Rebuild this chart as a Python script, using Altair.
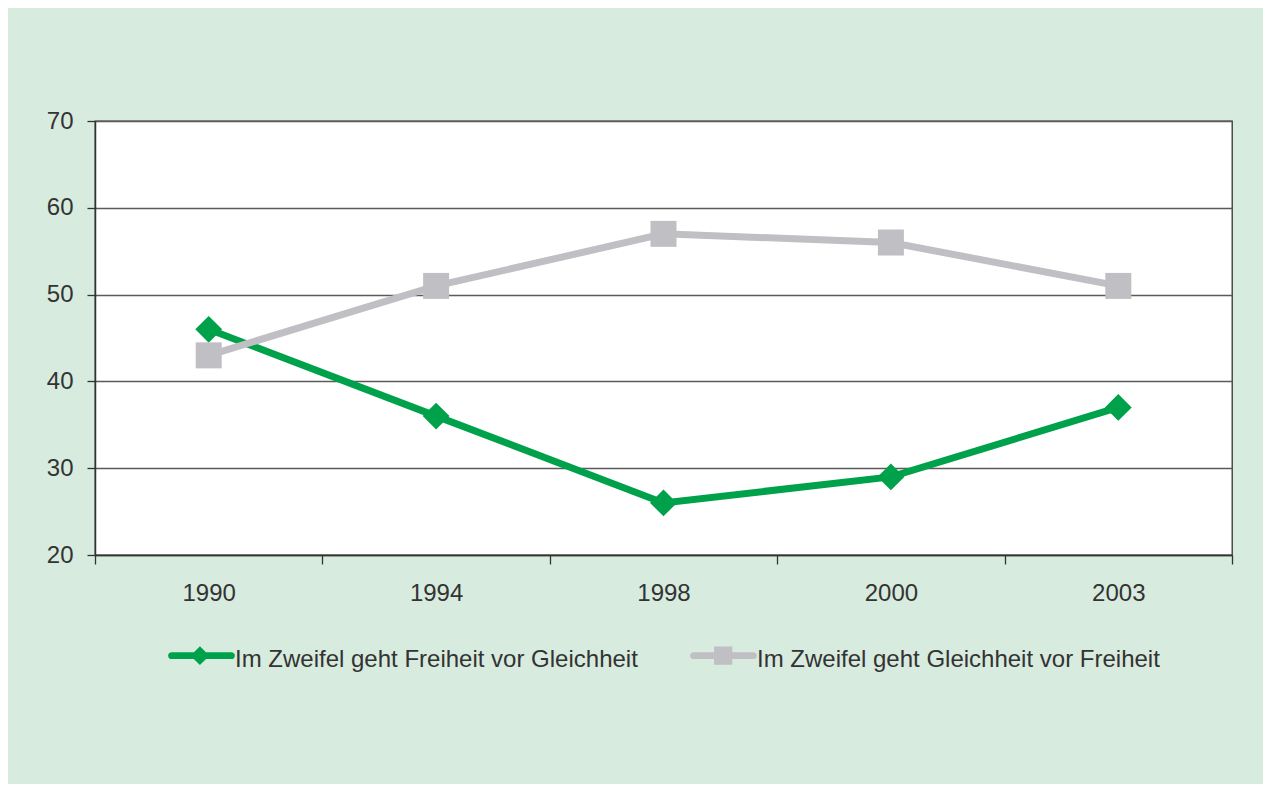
import altair as alt
import pandas as pd

years = ["1990", "1994", "1998", "2000", "2003"]
series_names = [
    "Im Zweifel geht Freiheit vor Gleichheit",
    "Im Zweifel geht Gleichheit vor Freiheit",
]
freiheit = [46, 36, 26, 29, 37]
gleichheit = [43, 51, 57, 56, 51]

GREEN = "#00a14b"
GREY = "#bfbfc4"
TEXT = "#333333"
FONT = "Liberation Sans"

df = pd.DataFrame(
    {
        "year": years * 2,
        "value": freiheit + gleichheit,
        "series": [series_names[0]] * len(years) + [series_names[1]] * len(years),
    }
)

x = alt.X(
    "year:O",
    sort=years,
    bandPosition=0.5,
    scale=alt.Scale(type="band", paddingInner=0, paddingOuter=0),
    axis=alt.Axis(
        title=None,
        labelAngle=0,
        tickBand="extent",
        grid=False,
        tickSize=9,
        labelPadding=17,
    ),
)
y = alt.Y(
    "value:Q",
    scale=alt.Scale(domain=[20, 70], nice=False, zero=False),
    axis=alt.Axis(
        title=None,
        values=[20, 30, 40, 50, 60, 70],
        grid=True,
        tickSize=8,
        labelPadding=14,
    ),
)

base = alt.Chart(df)

line_a = base.transform_filter(alt.datum.series == series_names[0]).mark_line(
    strokeWidth=7, color=GREEN
).encode(x=x, y=y)
pts_a = base.transform_filter(alt.datum.series == series_names[0]).mark_point(
    filled=True, shape="diamond", size=720, color=GREEN, opacity=1
).encode(x=x, y=y)
line_b = base.transform_filter(alt.datum.series == series_names[1]).mark_line(
    strokeWidth=7, color=GREY
).encode(x=x, y=y)
pts_b = base.transform_filter(alt.datum.series == series_names[1]).mark_point(
    filled=True, shape="square", size=676, color=GREY, opacity=1
).encode(x=x, y=y)

# legend symbols: line with marker (custom paths, unit coords scaled by sqrt(size)/2),
# drawn slightly above the row centre so the label sits a little lower, as in the original
path_diamond = (
    "M-0.95,-0.24 L0.95,-0.24 A0.11,0.11 0 0 1 0.95,-0.02 L-0.95,-0.02 A0.11,0.11 0 0 1 -0.95,-0.24 Z "
    "M-0.05,-0.43 L0.25,-0.13 L-0.05,0.17 L-0.35,-0.13 Z"
)
path_square = (
    "M-0.95,-0.24 L0.95,-0.24 A0.11,0.11 0 0 1 0.95,-0.02 L-0.95,-0.02 A0.11,0.11 0 0 1 -0.95,-0.24 Z "
    "M-0.3,-0.42 L0.28,-0.42 L0.28,0.16 L-0.3,0.16 Z"
)

legend_layer = base.transform_filter("false").mark_point(filled=True, opacity=1).encode(
    color=alt.Color(
        "series:N",
        scale=alt.Scale(domain=series_names, range=[GREEN, GREY]),
        legend=alt.Legend(
            title=None,
            orient="none",
            direction="horizontal",
            legendX=75,
            legendY=507,
            symbolSize=3969,
            symbolStrokeWidth=0,
            symbolOpacity=1,
            labelFontSize=24,
            labelFont=FONT,
            labelColor=TEXT,
            labelOffset=2,
            columnPadding=52,
            padding=0,
            labelLimit=600,
        ),
    ),
    shape=alt.Shape(
        "series:N",
        scale=alt.Scale(domain=series_names, range=[path_diamond, path_square]),
    ),
)

chart = (
    alt.layer(line_a, pts_a, line_b, pts_b, legend_layer)
    .properties(
        width=1137,
        height=434,
        padding={"left": 87, "top": 113, "right": 31, "bottom": 229},
        autosize=alt.AutoSizeParams(type="none"),
        background="#d8ebdf",
        view=alt.ViewBackground(fill="#ffffff", stroke=TEXT, strokeWidth=1.3),
    )
    .configure_view(fill="#ffffff", stroke=TEXT, strokeWidth=1.3)
    .configure_axis(
        domainColor=TEXT,
        domainWidth=1.5,
        tickColor=TEXT,
        tickWidth=1.3,
        labelFont=FONT,
        labelFontSize=24,
        labelColor=TEXT,
        gridColor="#5a5a5a",
        gridWidth=1.3,
    )
)

chart.save("out.html", embed_options={"renderer": "svg", "actions": False})
